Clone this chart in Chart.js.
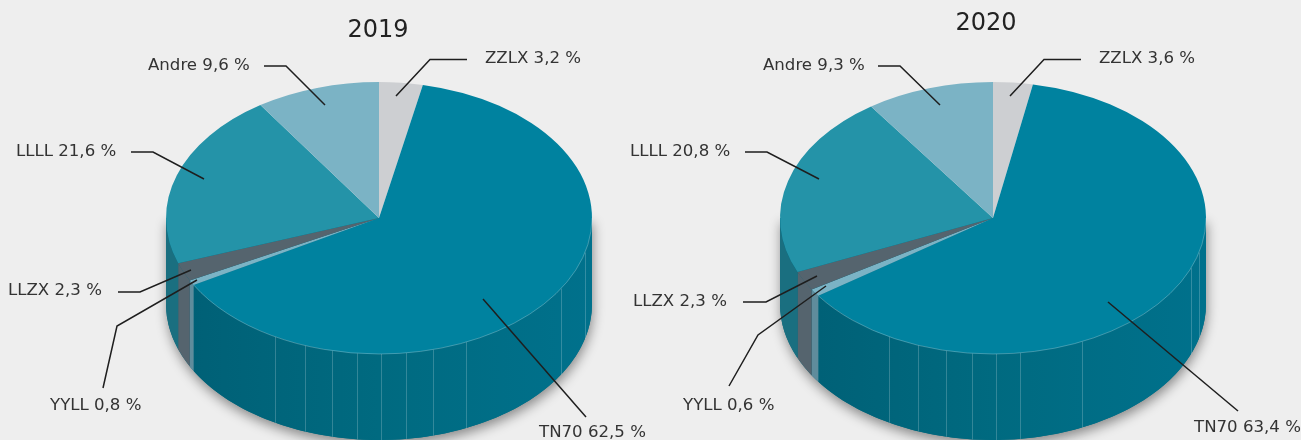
<!DOCTYPE html>
<html>
<head>
<meta charset="utf-8">
<title>2019 / 2020</title>
<script src="https://cdn.jsdelivr.net/npm/chart.js@4/dist/chart.umd.min.js"></script>
<style>
  html, body { margin: 0; padding: 0; background: #eeeeee; overflow: hidden; }
  canvas { position: absolute; top: 0; }
  #chart2019 { left: 0; }
  #chart2020 { left: 620px; }
</style>
</head>
<body>
<canvas id="chart2019" width="650" height="440"></canvas>
<canvas id="chart2020" width="681" height="440"></canvas>
<script>
var categories = ["ZZLX", "TN70", "YYLL", "LLZX", "LLLL", "Andre"];

// percentages as printed next to the pies
var printed2019 = [3.2, 62.5, 0.8, 2.3, 21.6, 9.6];
var printed2020 = [3.6, 63.4, 0.6, 2.3, 20.8, 9.3];

// slice shares as actually drawn (read from the wedge corners, they differ a bit from the printed ones)
var drawn2019 = [3.3, 63.5, 0.6, 2.2, 21.0, 9.4];
var drawn2020 = [3.0, 62.3, 0.9, 2.3, 21.8, 9.7];

var topColors = ["#cdcfd2", "#00829f", "#7bb3c5", "#55646e", "#2493a8", "#7bb3c5"];
var wallColors = ["#a5a7aa", "#00697f", "#5f8c9c", "#55646e", "#1a6f80", "#5f8c9c"];

var depth = 86;
var squash = 136 / 213;

// thin seams on the side of the pie, page x
var seams2019 = [275, 305, 332, 357, 381, 406, 433, 466, 561, 585];
var seams2020 = [889, 918, 946, 972, 996, 1020, 1082, 1191, 1199];

// label text position and leader line, page coordinates, same order as categories
var notes2019 = [
    { x: 485, y: 63, line: [[467, 59.5], [430, 59.5], [396, 96]] },
    { x: 539, y: 437, line: [[483, 299], [586, 417]] },
    { x: 50, y: 410, line: [[103, 388], [117, 326], [197, 280]] },
    { x: 8, y: 295, line: [[118, 292], [140, 292], [191, 270]] },
    { x: 16, y: 156, line: [[131, 152], [153, 152], [204, 179]] },
    { x: 148, y: 70, line: [[264, 66], [286, 66], [325, 105]] }
];
var notes2020 = [
    { x: 1099, y: 63, line: [[1081, 59.5], [1044, 59.5], [1010, 96]] },
    { x: 1194, y: 432, line: [[1108, 302], [1238, 411]] },
    { x: 683, y: 410, line: [[729, 386], [758, 335], [826, 286]] },
    { x: 633, y: 306, line: [[743, 302], [766, 302], [817, 276]] },
    { x: 630, y: 156, line: [[745, 152], [767, 152], [819, 179]] },
    { x: 763, y: 70, line: [[878, 66], [900, 66], [940, 105]] }
];

var fakeDepth = {
    id: "fakeDepth",
    beforeDatasetsDraw: function (chart) {
        var ctx = chart.ctx;
        var arcs = chart.getDatasetMeta(0).data;
        var cx = arcs[0].x, cy = arcs[0].y;
        var rx = arcs[0].outerRadius, ry = rx * squash;

        // drop shadow of the whole body
        ctx.save();
        ctx.shadowColor = "rgba(0,0,0,0.42)";
        ctx.shadowBlur = 12;
        ctx.shadowOffsetX = 1;
        ctx.shadowOffsetY = 5;
        ctx.fillStyle = "#00697f";
        ctx.beginPath();
        ctx.moveTo(cx - rx, cy);
        ctx.lineTo(cx - rx, cy + depth);
        ctx.ellipse(cx, cy + depth, rx, ry, 0, Math.PI, 0, true);
        ctx.lineTo(cx + rx, cy);
        ctx.closePath();
        ctx.fill();
        ctx.restore();

        // side walls, only the front half can be seen
        var shade = ctx.createLinearGradient(cx - rx, 0, cx + rx, 0);
        shade.addColorStop(0, "#005f75");
        shade.addColorStop(0.5, "#006a80");
        shade.addColorStop(1, "#00718c");
        arcs.forEach(function (arc, i) {
            var a = Math.max(arc.startAngle, 0);
            var b = Math.min(arc.endAngle, Math.PI);
            if (b <= a) return;
            ctx.fillStyle = categories[i] == "TN70" ? shade : wallColors[i];
            ctx.beginPath();
            ctx.ellipse(cx, cy, rx, ry, 0, a, b);
            ctx.ellipse(cx, cy + depth, rx, ry, 0, b, a, true);
            ctx.closePath();
            ctx.fill();
        });

        // seams
        var left = chart.canvas.offsetLeft;
        ctx.strokeStyle = "rgba(255,255,255,0.2)";
        ctx.lineWidth = 1;
        chart.options.plugins.fakeDepth.seams.forEach(function (pageX) {
            var x = pageX - left;
            var t = Math.acos((x - cx) / rx);
            var y = cy + ry * Math.sin(t);
            ctx.beginPath();
            ctx.moveTo(Math.round(x) + 0.5, y);
            ctx.lineTo(Math.round(x) + 0.5, y + depth);
            ctx.stroke();
        });

        // everything the library draws from here on is flattened to an ellipse
        ctx.save();
        ctx.translate(cx, cy);
        ctx.scale(1, squash);
        ctx.translate(-cx, -cy);
    },
    afterDatasetsDraw: function (chart) {
        var ctx = chart.ctx;
        ctx.restore();

        var arcs = chart.getDatasetMeta(0).data;
        var cx = arcs[0].x, cy = arcs[0].y;
        var rx = arcs[0].outerRadius, ry = rx * squash;
        var main = arcs[categories.indexOf("TN70")];
        ctx.strokeStyle = "rgba(255,255,255,0.25)";
        ctx.lineWidth = 1;
        ctx.beginPath();
        ctx.ellipse(cx, cy, rx, ry, 0, Math.max(main.startAngle, 0), Math.min(main.endAngle, Math.PI));
        ctx.stroke();
    }
};

var sideNotes = {
    id: "sideNotes",
    afterDraw: function (chart) {
        var ctx = chart.ctx;
        var opts = chart.options.plugins.sideNotes;
        ctx.save();
        ctx.translate(-chart.canvas.offsetLeft, 0);

        ctx.fillStyle = "#222222";
        ctx.font = "24px 'DejaVu Sans'";
        ctx.textAlign = "center";
        ctx.textBaseline = "alphabetic";
        ctx.fillText(opts.title, opts.titleX, opts.titleY);

        ctx.font = "16.6px 'DejaVu Sans'";
        ctx.textAlign = "left";
        ctx.strokeStyle = "#1e1e1e";
        ctx.lineWidth = 1.5;
        opts.notes.forEach(function (note, i) {
            ctx.fillStyle = "#333333";
            ctx.fillText(categories[i] + " " + opts.printed[i].toFixed(1).replace(".", ",") + " %", note.x, note.y);
            ctx.beginPath();
            note.line.forEach(function (p, k) {
                if (k == 0) ctx.moveTo(p[0], p[1]);
                else ctx.lineTo(p[0], p[1]);
            });
            ctx.stroke();
        });
        ctx.restore();
    }
};

function makePie(id, title, drawn, printed, notes, seams, padLeft, titleX, titleY) {
    return new Chart(document.getElementById(id), {
        type: "pie",
        data: {
            labels: categories,
            datasets: [{
                data: drawn,
                backgroundColor: topColors,
                borderWidth: 0,
                hoverOffset: 0
            }]
        },
        options: {
            responsive: false,
            animation: false,
            events: [],
            layout: { padding: { left: padLeft, right: 0, top: 5, bottom: 9 } },
            plugins: {
                legend: { display: false },
                tooltip: { enabled: false },
                fakeDepth: { seams: seams },
                sideNotes: { title: title, titleX: titleX, titleY: titleY, notes: notes, printed: printed }
            }
        },
        plugins: [fakeDepth, sideNotes]
    });
}

makePie("chart2019", "2019", drawn2019, printed2019, notes2019, seams2019, 108, 378, 37);
makePie("chart2020", "2020", drawn2020, printed2020, notes2020, seams2020, 65, 986, 30);
</script>
</body>
</html>
